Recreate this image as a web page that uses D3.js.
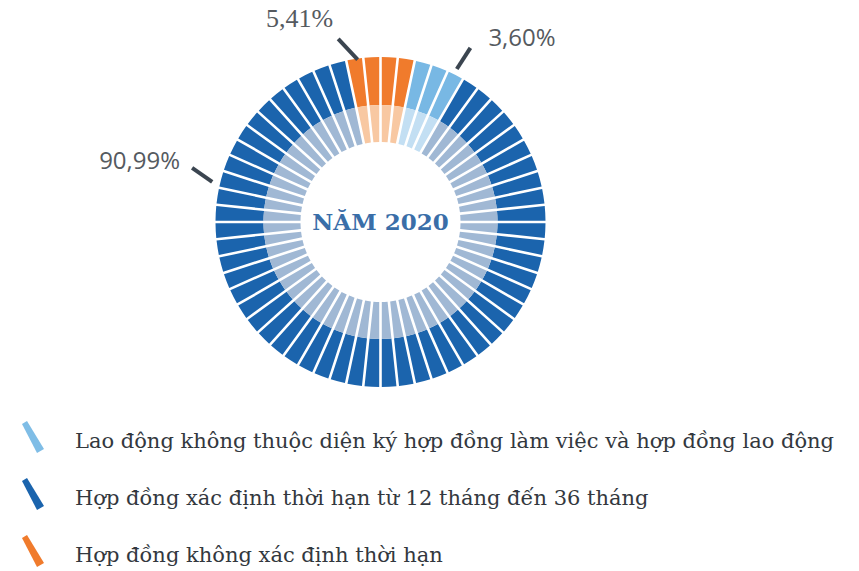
<!DOCTYPE html>
<html>
<head>
<meta charset="utf-8">
<script src="https://cdn.jsdelivr.net/npm/d3@7/dist/d3.min.js"></script>
<style>
  html, body { margin: 0; padding: 0; background: #ffffff; }
  svg { display: block; }
</style>
</head>
<body>
<svg id="chart" width="859" height="571"></svg>
<script>
// ---- data ----
const categories = [
  "Lao động không thuộc diện ký hợp đồng làm việc và hợp đồng lao động",
  "Hợp đồng xác định thời hạn từ 12 tháng đến 36 tháng",
  "Hợp đồng không xác định thời hạn"
];
const values = [3.60, 90.99, 5.41];
const valueLabels = ["3,60%", "90,99%", "5,41%"];
const segmentCounts = [3, 53, 4];           // number of radial segments per category (as drawn)
const drawOrder = [2, 0, 1];                // clockwise from the top
const centerTitle = "NĂM 2020";

// ---- styles ----
const outerColors = ["#78b8e4", "#1b64ad", "#f07b2c"];
const innerColors = ["#c3dff3", "#a0b8d4", "#f8c8a2"];
const legendColors = ["#7fbde6", "#1b64ad", "#f07b2c"];

const svg = d3.select("#chart");
const cx = 380.5, cy = 222;
const rOuter = 165, rMid = 117, rInner = 80;

const totalSegments = d3.sum(segmentCounts);
const startDeg = -segmentCounts[2] / 2 * (360 / totalSegments);
const angle = d3.scaleLinear()
  .domain([0, totalSegments])
  .range([startDeg * Math.PI / 180, (startDeg + 360) * Math.PI / 180]);

// build segments
const segments = [];
let idx = 0;
drawOrder.forEach(c => {
  for (let k = 0; k < segmentCounts[c]; k++) {
    segments.push({ cat: c, i: idx });
    idx++;
  }
});

const g = svg.append("g").attr("transform", `translate(${cx},${cy})`);

const arcOuter = d3.arc()
  .innerRadius(rMid).outerRadius(rOuter)
  .padRadius(100).padAngle(0.026)
  .startAngle(d => angle(d.i)).endAngle(d => angle(d.i + 1));
const arcInner = d3.arc()
  .innerRadius(rInner).outerRadius(rMid)
  .padRadius(100).padAngle(0.026)
  .startAngle(d => angle(d.i)).endAngle(d => angle(d.i + 1));

g.selectAll("path.outer").data(segments).join("path")
  .attr("class", "outer")
  .attr("d", arcOuter)
  .attr("fill", d => outerColors[d.cat]);
g.selectAll("path.inner").data(segments).join("path")
  .attr("class", "inner")
  .attr("d", arcInner)
  .attr("fill", d => innerColors[d.cat]);

// center title
g.append("text")
  .attr("x", 0).attr("y", 8)
  .attr("text-anchor", "middle")
  .attr("font-family", "'DejaVu Serif', serif")
  .attr("font-weight", "bold")
  .attr("font-size", 23)
  .attr("fill", "#3a6ea8")
  .text(centerTitle);

// ---- value labels with leaders ----
const polar = (r, deg) => [r * Math.sin(deg * Math.PI / 180), -r * Math.cos(deg * Math.PI / 180)];
const leaders = [
  { cat: 0, a0: 26.5, r0: 171, a1: 27.3, r1: 196, anchor: "start", dx: 18, dy: -2, font: "'Open Sans', sans-serif", size: 24 },
  { cat: 1, a0: -76.6, r0: 173, a1: -74, r1: 196, anchor: "end", dx: -12, dy: 1, font: "'Open Sans', sans-serif", size: 24 },
  { cat: 2, a0: -8, r0: 164, a1: -13, r1: 188, anchor: "end", dx: -5, dy: -12, font: "'Liberation Serif', 'DejaVu Serif', serif", size: 26 }
];
leaders.forEach(l => {
  const p0 = polar(l.r0, l.a0), p1 = polar(l.r1, l.a1);
  g.append("line")
    .attr("x1", p0[0]).attr("y1", p0[1])
    .attr("x2", p1[0]).attr("y2", p1[1])
    .attr("stroke", "#3b4550").attr("stroke-width", 4);
  g.append("text")
    .attr("x", p1[0] + l.dx).attr("y", p1[1] + l.dy)
    .attr("text-anchor", l.anchor)
    .attr("font-family", l.font)
    .attr("font-size", l.size)
    .attr("fill", "#555a60")
    .text(valueLabels[l.cat]);
});

// ---- legend ----
const legendY = d3.scalePoint().domain(d3.range(categories.length)).range([448, 562]);
const legend = svg.append("g");
categories.forEach((name, i) => {
  const y = legendY(i);
  legend.append("path")
    .attr("d", `M${22},${y - 24} L${27},${y - 27} L${44},${y + 1} L${37},${y + 5} Z`)
    .attr("fill", legendColors[i]);
  legend.append("text")
    .attr("x", 75).attr("y", y)
    .attr("font-family", "'DejaVu Serif', serif")
    .attr("font-size", 21)
    .attr("fill", "#33383e")
    .text(name);
});
</script>
</body>
</html>
